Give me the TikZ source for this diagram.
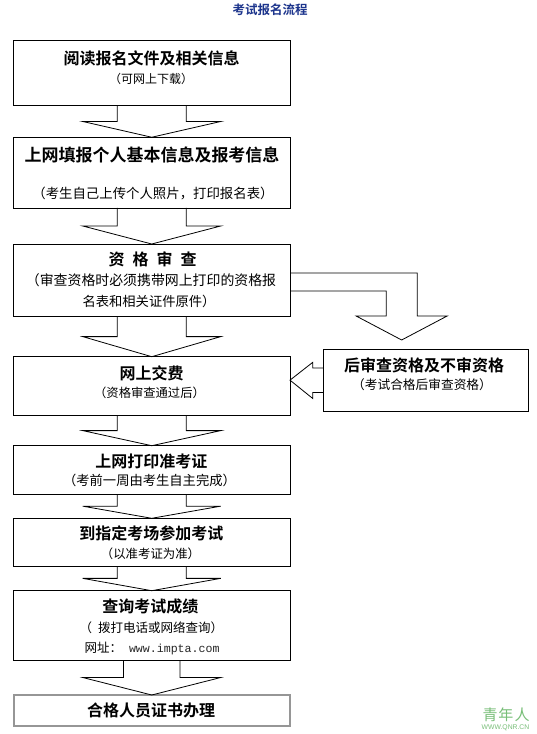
\documentclass[tikz,border=0pt]{standalone}
\usepackage{fontspec}
\newfontfamily\cjk{Noto Sans CJK SC}[BoldFont={Noto Sans CJK SC Bold}]
\newfontfamily\monof{Liberation Mono}
\newfontfamily\wmsans{Liberation Sans}
\usetikzlibrary{calc}
\definecolor{navy}{RGB}{28,52,140}
\definecolor{wmgreen}{RGB}{120,190,120}
\definecolor{boxgray}{RGB}{150,150,150}
\newcommand\fsz[1]{\fontsize{#1pt}{#1pt}\selectfont}
\tikzset{
  box/.style={draw=black, line width=0.9pt, rectangle, inner sep=0pt, outer sep=0pt},
  ttl/.style={font=\cjk\bfseries\fsz{16}, inner sep=0pt},
  subtxt/.style={font=\cjk\fsz{#1}, inner sep=0pt},
  subtxt/.default=13,
  blk/.style={draw=black, line width=0.8pt, line join=miter}
}
% vertical block arrow: source node, target node, stem half-width
\newcommand\vflow[3]{%
  \draw[blk] let \p1=(#1.south), \p2=(#2.north), \p3=($(\p1)!.5!(\p2)$) in
    (\x1-#3pt,\y1) -- (\x1-#3pt,\y3) -- (\x1-69pt,\y3) -- (\x2,\y2)
    -- (\x1+69pt,\y3) -- (\x1+#3pt,\y3) -- (\x1+#3pt,\y1);}
\begin{document}
\begin{tikzpicture}[x=1pt,y=-1pt]
\fill[white] (0,0) rectangle (536,734);
\useasboundingbox (0,0) rectangle (536,734);

% title
\node[font=\cjk\bfseries\fsz{12.5}, text=navy, inner sep=0pt] (title) at (270,10) {考试报名流程};

% boxes
\node[box, minimum width=276.5pt, minimum height=65pt]   (b1) at (151.75,73.2)  {};
\node[box, minimum width=276.5pt, minimum height=70.7pt] (b2) at (151.75,172.6) {};
\node[box, minimum width=276.5pt, minimum height=72.5pt] (b3) at (151.75,280.25) {};
\node[box, minimum width=276.5pt, minimum height=58.8pt] (b4) at (151.75,386.1) {};
\node[box, minimum width=204.7pt, minimum height=61.7pt] (rb) at (425.65,380.15) {};
\node[box, minimum width=276.5pt, minimum height=48.3pt] (b5) at (151.75,469.85) {};
\node[box, minimum width=276.5pt, minimum height=47.7pt] (b6) at (151.75,542.15) {};
\node[box, minimum width=276.5pt, minimum height=69.3pt] (b7) at (151.75,625.35) {};
\node[box, draw=boxgray, line width=2pt, minimum width=276.5pt, minimum height=31pt] (b8) at (151.75,710.5) {};

% texts
\node[ttl] (t1a) at (151.5,58) {阅读报名文件及相关信息};
\node[subtxt=12] (t1b) at (151,79) {（可网上下载）};

\node[ttl, font=\cjk\bfseries\fsz{17}] (t2a) at (152,154.5) {上网填报个人基本信息及报考信息};
\node[subtxt=13.4] (t2b) at (153,193) {（考生自己上传个人照片，打印报名表）};

\node[ttl] (t3a) at (152.5,259.3) {资\hspace{8pt}格\hspace{8pt}审\hspace{8pt}查};
\node[subtxt=13.9] (t3b) at (151,280) {（审查资格时必须携带网上打印的资格报};
\node[subtxt=13.3] (t3c) at (149,301) {名表和相关证件原件）};

\node[ttl] (t4a) at (151.5,373.3) {网上交费};
\node[subtxt=12.3] (t4b) at (149.5,393.3) {（资格审查通过后）};

\node[ttl] (tra) at (424,365) {后审查资格及不审资格};
\node[subtxt=12.7] (trb) at (422,385) {（考试合格后审查资格）};

\node[ttl] (t5a) at (151.3,461.7) {上网打印准考证};
\node[subtxt=13.3] (t5b) at (149.5,480.7) {（考前一周由考生自主完成）};

\node[ttl] (t6a) at (151.3,533.3) {到指定考场参加考试};
\node[subtxt=12.4] (t6b) at (150.5,554) {（以准考证为准）};

\node[ttl] (t7a) at (150.3,606) {查询考试成绩};
\node[subtxt=12.5] (t7b) at (151.3,627.3) {（\hspace{6pt}拨打电话或网络查询）};
\node[subtxt=12.5] (t7c) at (152,648.3) {网址：\hspace{7pt}{\monof\fsz{11.6}\color{black!85}www.impta.com}};

\node[ttl] (t8a) at (151,710) {合格人员证书办理};

% watermark
\node[font=\cjk\fsz{15}, text=wmgreen, inner sep=0pt] (wm1) at (506,715) {青\hspace{1pt}年\hspace{1pt}人};
\node[font=\wmsans\fsz{6.8}, text=wmgreen, inner sep=0pt] (wm2) at (505.5,728) {WWW.QNR.CN};

% main vertical block arrows
\vflow{b1}{b2}{34.5}
\vflow{b2}{b3}{34.5}
\vflow{b3}{b4}{34.5}
\vflow{b4}{b5}{34.5}
\vflow{b5}{b6}{34.5}
\vflow{b6}{b7}{34.5}
\vflow{b7}{b8}{28.3}

% branch arrow from b3 to rb
\draw[blk] let \p1=(b3.north east), \p2=($(rb.north)+(-24,0)$) in
  (\x1,\y1-29pt) -- (\x2+15.5pt,\y1-29pt) -- (\x2+15.5pt,\y1-72pt)
  -- (\x2+45.5pt,\y1-72pt) -- (\x2,\y2+9.3pt) -- (\x2-45.5pt,\y1-72pt)
  -- (\x2-15.5pt,\y1-72pt) -- (\x2-15.5pt,\y1-47pt) -- (\x1,\y1-47pt);

% arrow from rb to b4
\draw[blk] let \p1=(rb.west), \p2=(b4.east) in
  (\x1,\y1+12.2pt) -- (\x1-10.6pt,\y1+12.2pt) -- (\x1-10.6pt,\y1+17.8pt)
  -- (\x2,\y1) -- (\x1-10.6pt,\y1-18.3pt) -- (\x1-10.6pt,\y1-12.4pt)
  -- (\x1,\y1-12.4pt);
\end{tikzpicture}
\end{document}
